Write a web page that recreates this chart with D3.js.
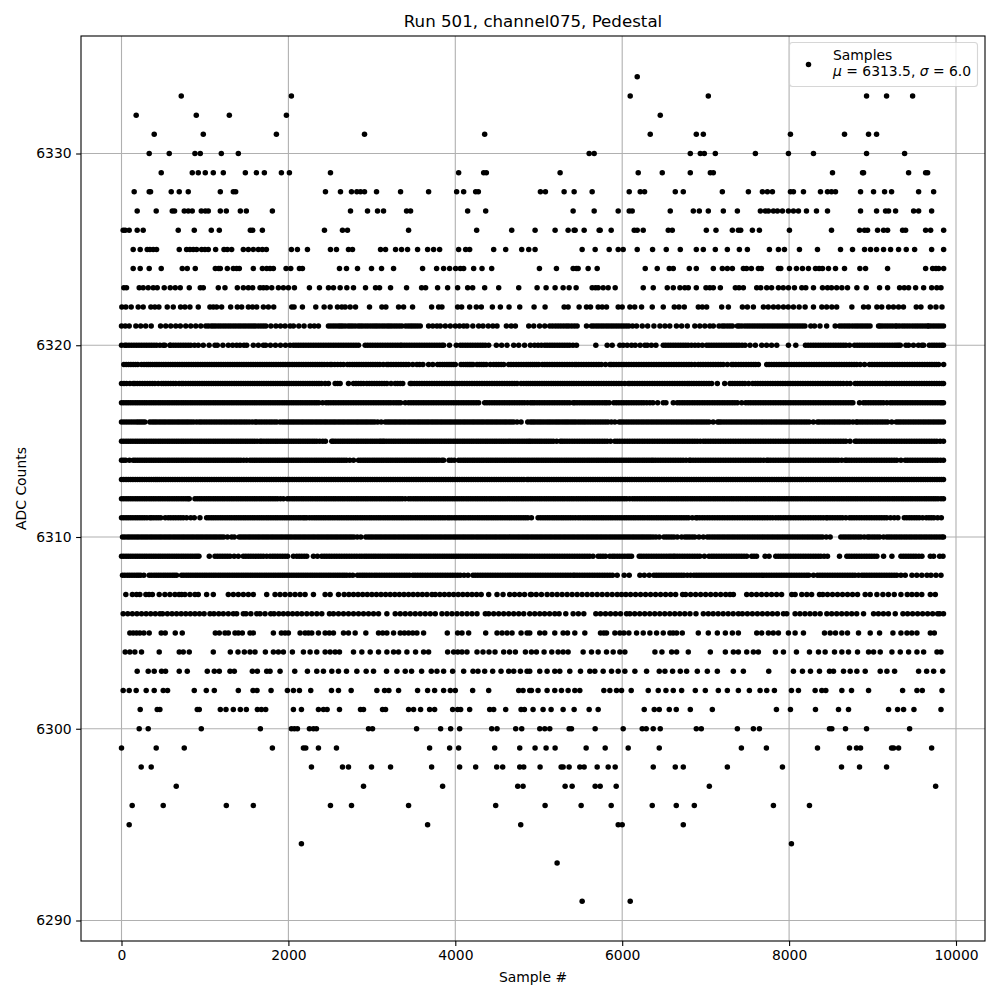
<!DOCTYPE html>
<html><head><meta charset="utf-8">
<script src="https://cdn.jsdelivr.net/npm/d3@7"></script>
<style>html,body{margin:0;padding:0;background:#fff}svg{display:block}text{font-family:"DejaVu Sans",sans-serif;fill:#000}</style>
</head><body><svg id="c" width="1000" height="1000"></svg>
<script>
const xTicks=[0,2000,4000,6000,8000,10000];
const yTicks=[6290,6300,6310,6320,6330];
const titleText="Run 501, channel075, Pedestal";
const xLabel="Sample #";
const yLabel="ADC Counts";
const legendName="Samples";
const mu="6313.5";
const sigma="6.0";
const s6334=[6180];
const s6333=[716,2036,6096,7032,8928,9168,9480];
const s6332=[176,896,1292,1976,6456];
const s6331=[392,980,1856,2912,4352,6336,6888,6972,8016,8664,8952,9048];
const s6330=[332,572,880,944,1196,1400,5604,5664,6816,6936,6984,7116,7596,7992,8292,8928,9384];
const s6329=[476,848,920,1004,1100,1220,1484,1616,1712,1916,2012,2504,4040,4340,4372,5256,6192,6480,6816,7056,7092,8520,8880,8892,9432,9636,9660];
const s6328=[152,332,348,596,692,800,1184,1340,1368,2444,2624,2756,2820,2864,2912,3056,3344,3680,4016,4100,4244,4276,5020,5080,5304,5424,5640,6084,6216,6268,6636,6732,7200,7512,7680,7740,7800,8016,8052,8172,8376,8460,8508,8556,8856,9012,9144,9228,9552,9732];
const s6327=[188,416,608,636,752,800,848,956,1004,1040,1184,1256,1424,1496,1808,2744,2948,3068,3140,3416,3464,4148,4364,5412,5664,5952,6084,6120,6576,6852,6924,7032,7212,7380,7656,7716,7752,7812,7860,7920,7992,8052,8112,8208,8328,8460,8856,9048,9156,9192,9276,9492,9552,9708];
const s6326=[20,44,92,188,260,680,872,1076,1172,1544,1572,1688,2432,2648,2708,3440,4256,4676,4956,5196,5352,5424,5436,5544,5724,5736,5868,6144,6180,6252,6552,6600,7008,7124,7320,7392,7420,7560,7644,8004,8508,8844,8904,8940,9060,9132,9180,9360,9396,9636,9696,9852];
const s6325=[140,224,308,340,380,420,692,780,820,860,900,960,1000,1040,1128,1228,1268,1320,1460,1520,1580,1640,1688,1736,2036,2108,2228,2504,2576,2720,2768,3104,3164,3284,3356,3428,3548,3668,3740,3812,4040,4124,4172,4460,4604,4796,4880,4956,5520,5676,5844,5952,6012,6180,6364,6528,6696,6888,6972,7116,7260,7404,7500,7764,7872,7944,8124,8340,8616,8760,8904,8976,9048,9132,9216,9312,9404,9504,9708,9852];
const s6324=[140,224,332,476,728,788,884,1124,1164,1184,1268,1340,1380,1412,1580,1688,1740,1780,1820,1972,2028,2132,2168,2612,2696,2828,2996,3116,3260,3608,3776,3860,3932,4004,4060,4100,4220,4320,4436,5008,5212,5412,5450,5472,5592,5700,6276,6420,6564,6612,6804,6888,7092,7200,7260,7320,7452,7490,7548,7632,7668,7872,7900,8004,8088,8160,8232,8316,8360,8400,8472,8556,8664,8848,8916,9180,9636,9720,9760,9792,9852];
const s6323=[28,60,212,260,320,380,428,512,584,644,704,812,944,980,1160,1240,1388,1460,1520,1572,1660,1700,1740,1800,1880,1940,2000,2072,2252,2372,2480,2540,2620,2700,2780,2924,3044,3092,3224,3416,3596,3644,3788,3908,4028,4148,4208,4352,4520,4760,4980,5088,5196,5292,5364,5448,5640,5680,5712,5772,5832,5916,6252,6372,6540,6612,6692,6750,6792,6888,7004,7050,7092,7176,7356,7400,7452,7612,7660,7732,7790,7872,7930,7992,8064,8152,8200,8292,8400,8460,8508,8570,8632,8700,8812,8924,9084,9180,9324,9380,9432,9516,9612,9708,9770,9820];
const s6322=[4,52,116,200,260,352,400,448,548,620,708,760,820,920,1060,1100,1140,1200,1308,1388,1440,1520,1570,1620,1700,1760,1824,2040,2068,2168,2328,2428,2500,2588,2640,2680,2740,2804,2972,3120,3168,3320,3380,3488,3716,3800,3840,4028,4076,4172,4252,4312,4444,4540,4644,4772,4944,5076,5304,5352,5484,5572,5620,5712,5760,5812,5952,6000,6092,6150,6232,6360,6492,6624,6680,6744,6912,6960,7012,7192,7272,7440,7500,7572,7692,7750,7812,7870,7932,7990,8052,8120,8192,8292,8392,8450,8512,8570,8752,8892,8950,9052,9110,9192,9250,9312,9370,9524,9580,9692,9760,9832];
const s6321=[0,45,92,172,230,290,356,468,530,590,650,705,770,830,890,950,1010,1075,1130,1190,1250,1310,1370,1430,1490,1550,1605,1670,1730,1790,1850,1905,1960,2020,2060,2125,2188,2260,2310,2360,2480,2540,2600,2650,2715,2770,2835,2890,2950,3010,3065,3125,3185,3240,3300,3360,3404,3465,3520,3580,3680,3730,3780,3820,3880,3940,4000,4050,4100,4140,4210,4280,4332,4395,4450,4500,4612,4670,4720,4880,4940,5010,5072,5132,5200,5265,5330,5395,5460,5572,5632,5690,5750,5810,5870,5930,5990,6050,6124,6172,6240,6305,6380,6452,6512,6570,6650,6712,6780,6870,6930,6990,7050,7092,7160,7225,7290,7380,7404,7470,7530,7590,7650,7710,7770,7830,7890,7950,8010,8070,8130,8190,8260,8304,8370,8450,8552,8604,8665,8725,8790,8850,8910,8970,9072,9092,9150,9210,9272,9292,9355,9415,9480,9540,9600,9660,9672,9730,9790,9850];
const f6321=[1040,1102,1160,1220,1280,1340,1400,1460,1520,1578,1638,1700,2510,2570,2625,2680,2742,2800,2862,2920,2980,3038,3095,3155,3212,3270,3330,3435,3492,3550,5165,5232,5298,5360,5428,5660,5720,5780,5840,5900,5960,6020,6080,7198,7258,7320,7435,7500,7560,7620,7680,7740,7800,7860,7920,7980,8040,8100,8160,8634,8695,8758,8820,8880,8940,9120,9180,9240,9322,9385,9447,9510,9570,9630,9700,9760,9820];
const s6320=[0,40,60,120,180,240,300,360,420,500,520,580,588,650,710,770,830,920,980,1050,1120,1148,1215,1280,1332,1380,1420,1468,1500,1580,1640,1700,1728,1785,1845,1905,1965,2020,2060,2120,2180,2240,2300,2360,2420,2480,2540,2600,2660,2720,2780,2840,2920,2980,3040,3100,3160,3220,3280,3340,3360,3420,3480,3540,3600,3660,3720,3780,3840,3860,3930,4012,4060,4120,4180,4240,4300,4360,4400,4492,4555,4620,4700,4760,4830,4900,4950,4992,5032,5072,5132,5190,5250,5310,5370,5452,5684,5820,5880,5972,6012,6060,6112,6156,6215,6272,6300,6350,6404,6492,6550,6610,6670,6730,6790,6872,6912,6960,7012,7040,7100,7160,7220,7280,7340,7400,7472,7532,7596,7672,7730,7790,7852,7992,8080,8196,8260,8320,8380,8440,8500,8560,8620,8680,8724,8784,8845,8905,8965,9025,9085,9145,9205,9265,9312,9332,9400,9432,9490,9550,9592,9612,9680,9712,9770,9830,9850];
const f6320=[90,150,210,270,330,390,460,620,680,740,800,875,2090,2150,2210,2270,2330,2390,2450,2510,2570,2630,2690,2750,2810,2950,3010,3070,3130,3190,3250,3310,3390,3450,3510,3570,3630,3690,3750,3810,4090,4150,4210,4270,4330,5100,5160,5220,5280,5340,5410,6520,6580,6640,6700,6760,6830,7070,7130,7190,7250,7310,7370,7436,8228,8290,8350,8410,8470,8530,8590,8650,8815,8875,8935,8995,9055,9115,9175,9235,9290,9740,9800];
const s6319=[28,85,140,195,240,300,345,400,450,505,560,615,670,725,780,835,890,945,1000,1055,1110,1165,1220,1275,1330,1385,1440,1495,1550,1605,1660,1715,1770,1825,1880,1935,1990,2045,2100,2155,2210,2265,2320,2375,2430,2500,2520,2590,2660,2708,2765,2820,2875,2930,2985,3040,3095,3180,3200,3260,3320,3380,3440,3540,3572,3612,3680,3730,3788,3845,3900,3950,4000,4068,4125,4170,4212,4260,4315,4370,4420,4460,4520,4580,4640,4668,4730,4790,4850,4900,4950,5000,5044,5072,5130,5190,5250,5310,5370,5432,5452,5510,5570,5630,5690,5750,5852,5872,5930,5990,6050,6110,6170,6230,6290,6350,6410,6470,6530,6590,6650,6710,6770,6830,6912,6970,7030,7090,7150,7210,7312,7332,7395,7455,7515,7575,7632,7732,7790,7850,7910,7970,8030,8090,8150,8210,8270,8330,8390,8450,8510,8570,8630,8690,8750,8810,8852,8904,8964,9025,9085,9145,9205,9265,9325,9385,9445,9505,9565,9625,9685,9740,9792,9852];
const f6319=[56,112,168,270,322,372,425,478,532,587,642,697,752,807,862,917,972,1027,1082,1137,1192,1247,1302,1357,1412,1467,1522,1577,1632,1687,1742,1797,1852,1907,1962,2017,2072,2127,2182,2237,2292,2347,2402,2465,2555,2625,2736,2792,2847,2902,2957,3012,3067,3137,3230,3290,3350,3410,3490,3816,3872,3925,3975,4096,4148,4190,4288,4342,4490,4550,4698,4760,4820,4875,4925,4975,5100,5160,5220,5280,5340,5400,5480,5540,5600,5660,5720,5800,5900,5960,6020,6080,6140,6200,6260,6320,6380,6440,6500,6560,6620,6680,6740,6800,6870,6940,7000,7060,7120,7180,7260,7362,7425,7485,7545,7600,7760,7820,7880,7940,8000,8060,8120,8180,8240,8300,8360,8420,8480,8540,8600,8660,8720,8780,8994,9055,9115,9175,9235,9295,9355,9415,9475,9535,9595,9655,9712,9765];
const s6318=[0,60,140,160,220,280,340,400,480,532,590,650,720,740,800,855,910,965,1020,1075,1130,1185,1240,1295,1350,1405,1460,1515,1570,1625,1680,1735,1790,1845,1900,1955,2010,2065,2120,2175,2230,2285,2340,2395,2480,2560,2620,2720,2780,2840,2900,2940,3000,3060,3120,3180,3280,3308,3370,3460,3480,3540,3600,3660,3720,3780,3840,3900,3960,4020,4080,4140,4200,4260,4320,4380,4440,4500,4560,4620,4680,4740,4788,4850,4900,4955,5010,5065,5120,5175,5230,5285,5340,5395,5450,5512,5570,5630,5690,5750,5810,5870,5930,5990,6072,6092,6150,6210,6270,6330,6390,6450,6510,6570,6630,6690,6750,6804,6832,6890,6950,7010,7072,7140,7228,7292,7350,7410,7470,7564,7596,7655,7715,7775,7835,7895,7955,8015,8075,8135,8195,8255,8315,8375,8435,8495,8555,8615,8692,8732,8792,8850,8910,8970,9030,9090,9152,9172,9230,9290,9350,9410,9470,9530,9590,9650,9710,9770,9830,9850];
const f6318=[30,100,190,250,310,370,440,505,560,620,690,770,827,882,937,992,1047,1102,1157,1212,1267,1322,1377,1432,1487,1542,1597,1652,1707,1762,1817,1872,1927,1982,2037,2092,2147,2202,2257,2312,2367,2440,2590,2810,2870,2970,3030,3090,3150,3230,3340,3510,3570,3630,3690,3750,3810,3870,3930,3990,4050,4110,4170,4230,4290,4350,4410,4470,4530,4590,4650,4710,4820,4875,4928,4982,5038,5092,5148,5202,5258,5312,5368,5422,5480,5540,5600,5660,5720,5780,5840,5900,5960,6030,6120,6180,6240,6300,6360,6420,6480,6540,6600,6660,6720,6780,6860,6920,6980,7040,7320,7380,7440,7515,7625,7685,7745,7805,7865,7925,7985,8045,8105,8165,8225,8285,8345,8405,8465,8525,8585,8650,8820,8880,8940,9000,9060,9120,9200,9260,9320,9380,9440,9500,9560,9620,9680,9740,9800];
const s6317=[0,55,110,165,220,275,330,385,440,495,550,605,660,715,770,825,880,935,990,1045,1100,1155,1210,1265,1320,1375,1430,1485,1540,1595,1650,1705,1760,1815,1870,1925,1980,2035,2090,2145,2200,2255,2310,2365,2452,2480,2540,2600,2660,2720,2780,2840,2900,2960,3020,3080,3140,3200,3228,3290,3345,3400,3440,3500,3560,3620,3680,3740,3800,3860,3920,3980,4040,4100,4160,4220,4280,4352,4410,4470,4530,4590,4650,4710,4770,4830,4900,4950,5010,5070,5130,5190,5250,5310,5370,5412,5432,5490,5550,5610,5670,5730,5790,5844,5900,5960,6020,6080,6140,6200,6260,6332,6368,6425,6492,6524,6612,6660,6720,6780,6840,6900,6960,7020,7080,7140,7200,7260,7320,7380,7432,7480,7540,7600,7660,7720,7780,7840,7900,7960,8020,8080,8140,8200,8260,8320,8380,8440,8500,8560,8620,8680,8740,8764,8844,8892,8950,9010,9070,9130,9172,9212,9270,9330,9390,9450,9510,9570,9630,9690,9750,9810,9850];
const f6317=[27,82,137,192,247,302,357,412,467,522,577,632,687,742,797,852,907,962,1017,1072,1127,1182,1237,1292,1347,1402,1457,1512,1567,1622,1677,1732,1787,1842,1897,1952,2007,2062,2117,2172,2227,2282,2337,2410,2510,2570,2630,2690,2750,2810,2870,2930,2990,3050,3110,3170,3260,3318,3470,3530,3590,3650,3710,3770,3830,3890,3950,4010,4070,4130,4190,4250,4380,4440,4500,4560,4620,4680,4740,4800,4865,4925,4980,5040,5100,5160,5220,5280,5340,5460,5520,5580,5640,5700,5760,5815,5930,5990,6050,6110,6170,6230,6295,6690,6750,6810,6870,6930,6990,7050,7110,7170,7230,7290,7350,7510,7570,7630,7690,7750,7810,7870,7930,7990,8050,8110,8170,8230,8290,8350,8410,8470,8530,8590,8650,8710,8920,8980,9040,9100,9240,9300,9360,9420,9480,9540,9600,9660,9720,9780,9830];
const s6316=[0,60,120,180,230,280,340,395,450,505,560,615,670,725,780,835,900,932,990,1050,1110,1170,1230,1290,1350,1410,1470,1530,1600,1620,1680,1740,1800,1860,1900,1932,1990,2045,2100,2155,2210,2265,2320,2375,2430,2485,2540,2595,2650,2705,2760,2815,2870,2925,2980,3035,3112,3160,3215,3270,3325,3380,3435,3490,3545,3600,3655,3710,3765,3820,3875,3930,3985,4040,4095,4150,4205,4260,4315,4370,4425,4480,4535,4590,4645,4700,4788,4868,4900,4950,5005,5060,5115,5170,5225,5280,5335,5390,5445,5504,5532,5590,5650,5710,5770,5830,5912,5964,6020,6080,6140,6200,6260,6320,6380,6440,6500,6560,6620,6680,6740,6800,6860,6920,6980,7040,7144,7164,7220,7280,7340,7400,7460,7520,7580,7640,7700,7760,7820,7880,7940,8000,8060,8120,8180,8240,8340,8364,8425,8485,8545,8605,8665,8725,8804,8820,8880,8940,9000,9060,9120,9180,9284,9312,9370,9430,9490,9550,9610,9670,9730,9790,9850];
const f6316=[30,90,150,205,255,368,422,477,532,587,642,697,752,807,865,960,1020,1080,1140,1200,1260,1320,1380,1440,1500,1565,1650,1710,1770,1830,1960,2018,2072,2127,2182,2237,2292,2347,2402,2457,2512,2567,2622,2677,2732,2787,2842,2897,2952,3007,3070,3188,3242,3297,3352,3407,3462,3517,3572,3627,3682,3737,3792,3847,3902,3957,4012,4067,4122,4177,4232,4287,4342,4397,4452,4507,4562,4617,4672,4740,4925,4978,5032,5088,5142,5198,5252,5308,5362,5418,5475,5560,5620,5680,5740,5800,5870,5990,6050,6110,6170,6230,6290,6350,6410,6470,6530,6590,6650,6710,6770,6830,6890,6950,7010,7090,7190,7250,7310,7370,7430,7490,7550,7610,7670,7730,7790,7850,7910,7970,8030,8090,8150,8210,8290,8395,8455,8515,8575,8635,8695,8765,8850,8910,8970,9030,9090,9150,9230,9340,9400,9460,9520,9580,9640,9700,9760,9820];
const s6315=[0,55,110,165,220,275,330,385,440,495,550,605,660,715,770,825,880,935,990,1045,1100,1155,1210,1265,1320,1375,1430,1485,1540,1595,1660,1680,1735,1790,1845,1900,1955,2010,2065,2120,2175,2230,2285,2340,2412,2444,2520,2540,2595,2650,2705,2760,2815,2870,2925,2980,3035,3090,3132,3150,3205,3260,3315,3370,3425,3480,3535,3590,3645,3700,3755,3810,3865,3920,3975,4030,4085,4140,4195,4250,4305,4360,4415,4470,4525,4580,4635,4690,4745,4800,4855,4900,4955,5010,5065,5120,5175,5260,5284,5340,5400,5460,5520,5580,5640,5700,5760,5820,5912,5940,6000,6060,6120,6180,6240,6300,6360,6420,6480,6540,6600,6660,6720,6780,6840,6900,6972,7000,7060,7120,7180,7240,7300,7360,7420,7480,7540,7600,7660,7720,7780,7840,7900,7960,8020,8080,8140,8200,8260,8320,8380,8440,8500,8560,8620,8680,8792,8812,8870,8930,8990,9050,9110,9170,9230,9290,9350,9410,9470,9530,9590,9650,9710,9770,9850];
const f6315=[27,82,137,192,247,302,357,412,467,522,577,632,687,742,797,852,907,962,1017,1072,1127,1182,1237,1292,1347,1402,1457,1512,1567,1625,1707,1762,1817,1872,1927,1982,2037,2092,2147,2202,2257,2312,2375,2567,2622,2677,2732,2787,2842,2897,2952,3007,3062,3110,3177,3232,3287,3342,3397,3452,3507,3562,3617,3672,3727,3782,3837,3892,3947,4002,4057,4112,4167,4222,4277,4332,4387,4442,4497,4552,4607,4662,4717,4772,4827,4880,4927,4982,5037,5092,5147,5215,5312,5370,5430,5490,5550,5610,5670,5730,5790,5860,5970,6030,6090,6150,6210,6270,6330,6390,6450,6510,6570,6630,6690,6750,6810,6870,6935,7030,7090,7150,7210,7270,7330,7390,7450,7510,7570,7630,7690,7750,7810,7870,7930,7990,8050,8110,8170,8230,8290,8350,8410,8470,8530,8590,8650,8730,8840,8900,8960,9020,9080,9140,9200,9260,9320,9380,9440,9500,9560,9620,9680,9740,9810];
const s6314=[0,50,140,164,220,275,330,385,440,495,550,605,660,715,770,825,880,935,990,1045,1100,1155,1210,1265,1320,1375,1430,1500,1540,1595,1650,1705,1760,1815,1870,1925,1980,2035,2090,2145,2200,2255,2310,2365,2420,2475,2530,2585,2640,2695,2780,2840,2895,2950,3005,3060,3115,3170,3225,3280,3335,3390,3445,3500,3555,3610,3665,3720,3775,3840,3860,3925,3988,4040,4095,4150,4205,4260,4315,4370,4425,4480,4535,4590,4645,4700,4755,4810,4865,4920,4975,5030,5085,5140,5195,5250,5305,5360,5415,5470,5525,5580,5635,5690,5745,5800,5855,5910,5965,6020,6075,6130,6185,6240,6295,6350,6372,6430,6490,6550,6610,6670,6730,6804,6820,6880,6940,7000,7060,7120,7180,7240,7300,7360,7420,7480,7540,7600,7660,7732,7752,7810,7870,7930,7990,8050,8110,8170,8230,8290,8350,8410,8470,8530,8590,8672,8692,8750,8810,8870,8930,8990,9050,9110,9170,9230,9290,9392,9420,9480,9540,9600,9660,9720,9780,9850];
const f6314=[25,95,192,247,302,357,412,467,522,577,632,687,742,797,852,907,962,1017,1072,1127,1182,1237,1292,1347,1402,1465,1567,1622,1677,1732,1787,1842,1897,1952,2007,2062,2117,2172,2227,2282,2337,2392,2447,2502,2557,2612,2667,2735,2867,2922,2977,3032,3087,3142,3197,3252,3307,3362,3417,3472,3527,3582,3637,3692,3747,3805,3955,4067,4122,4177,4232,4287,4342,4397,4452,4507,4562,4617,4672,4727,4782,4837,4892,4947,5002,5057,5112,5167,5222,5277,5332,5387,5442,5497,5552,5607,5662,5717,5772,5827,5882,5937,5992,6047,6102,6157,6212,6267,6322,6400,6460,6520,6580,6640,6700,6765,6850,6910,6970,7030,7090,7150,7210,7270,7330,7390,7450,7510,7570,7630,7695,7780,7840,7900,7960,8020,8080,8140,8200,8260,8320,8380,8440,8500,8560,8630,8720,8780,8840,8900,8960,9020,9080,9140,9200,9260,9340,9450,9510,9570,9630,9690,9750,9815];
const s6313=[0,55,110,165,220,275,330,385,428,452,505,560,615,670,725,780,835,890,945,1000,1055,1110,1165,1220,1275,1330,1385,1440,1495,1550,1605,1660,1715,1770,1825,1880,1935,1990,2045,2100,2155,2210,2265,2320,2375,2430,2485,2540,2595,2650,2705,2760,2815,2870,2925,2980,3035,3090,3145,3200,3255,3310,3365,3420,3475,3530,3585,3640,3695,3750,3805,3860,3915,3970,4025,4080,4135,4190,4245,4300,4355,4410,4465,4520,4575,4630,4685,4740,4795,4860,4880,4935,4990,5045,5100,5155,5210,5265,5320,5375,5430,5485,5540,5595,5650,5705,5760,5815,5870,5925,5980,6035,6090,6145,6200,6255,6310,6365,6420,6475,6530,6585,6640,6695,6750,6805,6860,6915,6970,7025,7080,7135,7190,7245,7300,7355,7410,7465,7520,7575,7630,7685,7740,7795,7850,7905,7960,8015,8070,8125,8172,8204,8260,8315,8370,8425,8480,8535,8590,8645,8700,8755,8810,8865,8920,8975,9030,9085,9140,9195,9250,9305,9360,9415,9470,9525,9580,9635,9690,9745,9800,9850];
const f6313=[27,82,137,192,247,302,357,408,478,532,587,642,697,752,807,862,917,972,1027,1082,1137,1192,1247,1302,1357,1412,1467,1522,1577,1632,1687,1742,1797,1852,1907,1962,2017,2072,2127,2182,2237,2292,2347,2402,2457,2512,2567,2622,2677,2732,2787,2842,2897,2952,3007,3062,3117,3172,3227,3282,3337,3392,3447,3502,3557,3612,3667,3722,3777,3832,3887,3942,3997,4052,4107,4162,4217,4272,4327,4382,4437,4492,4547,4602,4657,4712,4767,4822,4907,4962,5017,5072,5127,5182,5237,5292,5347,5402,5457,5512,5567,5622,5677,5732,5787,5842,5897,5952,6007,6062,6117,6172,6227,6282,6337,6392,6447,6502,6557,6612,6667,6722,6777,6832,6887,6942,6997,7052,7107,7162,7217,7272,7327,7382,7437,7492,7547,7602,7657,7712,7767,7822,7877,7932,7987,8042,8097,8148,8232,8287,8342,8397,8452,8507,8562,8617,8672,8727,8782,8837,8892,8947,9002,9057,9112,9167,9222,9277,9332,9387,9442,9497,9552,9607,9662,9717,9772,9825];
const s6312=[0,55,110,165,220,275,330,385,440,495,550,605,660,715,770,812,880,935,990,1045,1100,1155,1210,1265,1320,1375,1430,1485,1540,1595,1650,1705,1760,1815,1870,1940,1988,2045,2100,2155,2210,2265,2320,2375,2430,2485,2540,2595,2650,2705,2760,2815,2870,2925,2980,3035,3090,3145,3200,3255,3310,3365,3440,3468,3525,3580,3635,3690,3745,3800,3855,3910,3965,4020,4075,4130,4185,4240,4295,4350,4405,4460,4515,4570,4625,4680,4735,4790,4845,4900,4955,5010,5065,5120,5175,5230,5285,5340,5395,5450,5505,5560,5615,5670,5725,5780,5835,5890,5945,6000,6055,6124,6152,6210,6265,6320,6375,6430,6485,6540,6595,6650,6705,6760,6815,6870,6925,6980,7035,7090,7145,7200,7255,7310,7365,7420,7475,7530,7585,7640,7695,7750,7805,7860,7915,7970,8025,8080,8135,8190,8245,8300,8355,8410,8465,8520,8575,8630,8685,8740,8795,8850,8905,8960,9015,9070,9125,9180,9235,9290,9345,9400,9455,9510,9565,9620,9675,9730,9785,9850];
const f6312=[27,82,137,192,247,302,357,412,467,522,577,632,687,742,795,907,962,1017,1072,1127,1182,1237,1292,1347,1402,1457,1512,1567,1622,1677,1732,1787,1842,1905,2017,2072,2127,2182,2237,2292,2347,2402,2457,2512,2567,2622,2677,2732,2787,2842,2897,2952,3007,3062,3117,3172,3227,3282,3337,3400,3497,3552,3607,3662,3717,3772,3827,3882,3937,3992,4047,4102,4157,4212,4267,4322,4377,4432,4487,4542,4597,4652,4707,4762,4817,4872,4927,4982,5037,5092,5147,5202,5257,5312,5367,5422,5477,5532,5587,5642,5697,5752,5807,5862,5917,5972,6027,6090,6180,6237,6292,6347,6402,6457,6512,6567,6622,6677,6732,6787,6842,6897,6952,7007,7062,7117,7172,7227,7282,7337,7392,7447,7502,7557,7612,7667,7722,7777,7832,7887,7942,7997,8052,8107,8162,8217,8272,8327,8382,8437,8492,8547,8602,8657,8712,8767,8822,8877,8932,8987,9042,9097,9152,9207,9262,9317,9372,9427,9482,9537,9592,9647,9702,9757,9820];
const s6311=[0,55,110,165,220,275,340,360,415,470,524,560,620,680,740,780,830,872,940,1020,1075,1130,1185,1240,1295,1350,1405,1460,1515,1570,1625,1680,1735,1790,1845,1900,1955,2010,2065,2120,2175,2220,2252,2310,2365,2420,2475,2530,2585,2640,2695,2750,2805,2860,2915,2970,3025,3080,3135,3190,3245,3300,3355,3410,3465,3520,3575,3630,3685,3740,3795,3850,3908,3932,3990,4045,4100,4155,4210,4265,4320,4375,4430,4485,4540,4595,4650,4705,4760,4815,4870,4912,4992,5050,5105,5160,5215,5270,5325,5380,5440,5472,5530,5585,5640,5695,5750,5805,5860,5915,5970,6025,6080,6135,6190,6245,6300,6355,6410,6465,6520,6575,6630,6685,6740,6795,6884,6900,6960,7020,7080,7140,7200,7260,7320,7380,7440,7500,7560,7620,7680,7740,7804,7840,7900,7960,8020,8080,8140,8200,8260,8320,8380,8444,8460,8520,8580,8640,8724,8752,8810,8870,8930,8990,9050,9110,9170,9260,9304,9380,9440,9500,9560,9644,9676,9735,9824];
const f6311=[27,82,137,192,247,305,387,442,590,650,710,1047,1102,1157,1212,1267,1322,1377,1432,1487,1542,1597,1652,1707,1762,1817,1872,1927,1982,2037,2092,2147,2197,2282,2337,2392,2447,2502,2557,2612,2667,2722,2777,2832,2887,2942,2997,3052,3107,3162,3217,3272,3327,3382,3437,3492,3547,3602,3657,3712,3767,3822,3877,3960,4017,4072,4127,4182,4237,4292,4347,4402,4457,4512,4567,4622,4677,4732,4787,4842,5022,5077,5132,5187,5242,5297,5352,5410,5500,5557,5612,5667,5722,5777,5832,5887,5942,5997,6052,6107,6162,6217,6272,6327,6382,6437,6492,6547,6602,6657,6712,6767,6840,6930,6990,7050,7110,7170,7230,7290,7350,7410,7470,7530,7590,7650,7710,7772,7870,7930,7990,8050,8110,8170,8230,8290,8350,8410,8490,8550,8610,8680,8780,8840,8900,8960,9020,9080,9140,9215,9410,9470,9530,9600,9705,9780];
const s6310=[12,70,125,180,235,290,345,400,455,510,565,620,675,730,785,840,895,950,1005,1060,1115,1170,1225,1320,1352,1410,1465,1520,1575,1630,1685,1740,1795,1850,1905,1960,2015,2070,2125,2180,2235,2290,2345,2400,2455,2510,2565,2620,2675,2730,2785,2868,2928,2985,3040,3095,3150,3205,3260,3315,3370,3425,3480,3535,3590,3645,3700,3755,3810,3865,3920,3975,4030,4085,4140,4195,4250,4305,4360,4415,4470,4525,4580,4635,4690,4745,4800,4855,4910,4965,5020,5075,5130,5185,5240,5295,5350,5405,5460,5515,5570,5625,5680,5735,5790,5845,5900,5955,6010,6065,6120,6175,6230,6285,6340,6404,6444,6500,6560,6620,6712,6752,6810,6870,6972,7020,7080,7140,7200,7260,7320,7380,7440,7500,7560,7620,7680,7740,7800,7860,7920,7980,8040,8100,8160,8220,8280,8340,8400,8492,8620,8680,8740,8800,8860,8940,8964,9025,9085,9132,9172,9230,9290,9350,9410,9470,9530,9590,9650,9710,9770,9830,9850];
const f6310=[40,97,152,207,262,317,372,427,482,537,592,647,702,757,812,867,922,977,1032,1087,1142,1197,1270,1437,1492,1547,1602,1657,1712,1767,1822,1877,1932,1987,2042,2097,2152,2207,2262,2317,2372,2427,2482,2537,2592,2647,2702,2757,2825,2957,3012,3067,3122,3177,3232,3287,3342,3397,3452,3507,3562,3617,3672,3727,3782,3837,3892,3947,4002,4057,4112,4167,4222,4277,4332,4387,4442,4497,4552,4607,4662,4717,4772,4827,4882,4937,4992,5047,5102,5157,5212,5267,5322,5377,5432,5487,5542,5597,5652,5707,5762,5817,5872,5927,5982,6037,6092,6147,6202,6257,6312,6370,6530,6590,6660,6780,6840,6920,7050,7110,7170,7230,7290,7350,7410,7470,7530,7590,7650,7710,7770,7830,7890,7950,8010,8070,8130,8190,8250,8310,8370,8445,8650,8710,8770,8830,8900,8995,9055,9200,9260,9320,9380,9440,9500,9560,9620,9680,9740,9800];
const s6309=[0,55,110,165,220,275,330,385,440,495,550,605,660,715,770,825,880,928,1052,1120,1180,1240,1300,1400,1460,1520,1580,1640,1700,1780,1812,1870,1930,1990,2060,2100,2160,2220,2300,2348,2400,2460,2520,2580,2640,2700,2760,2820,2852,2910,2965,3020,3075,3130,3185,3240,3295,3350,3405,3460,3515,3570,3625,3680,3735,3790,3845,3900,3955,4010,4065,4120,4175,4230,4285,4340,4395,4450,4505,4560,4615,4670,4725,4780,4835,4892,4950,5010,5070,5130,5190,5250,5310,5370,5430,5490,5550,5610,5712,5740,5800,5852,5884,5940,6000,6060,6112,6204,6260,6320,6380,6440,6500,6560,6612,6632,6690,6750,6810,6870,6930,7040,7072,7130,7190,7250,7310,7370,7430,7492,7552,7610,7712,7760,7840,7900,7960,8020,8080,8140,8200,8260,8320,8380,8460,8604,8692,8750,8810,8870,8930,8990,9052,9132,9232,9340,9400,9460,9520,9592,9692,9732,9804,9844];
const f6309=[27,82,137,192,247,302,357,412,467,522,577,632,687,742,797,852,905,1150,1210,1270,1350,1490,1550,1610,1670,1740,1840,1900,1960,2130,2190,2430,2490,2550,2610,2670,2730,2790,2880,2937,2992,3047,3102,3157,3212,3267,3322,3377,3432,3487,3542,3597,3652,3707,3762,3817,3872,3927,3982,4037,4092,4147,4202,4257,4312,4367,4422,4477,4532,4587,4642,4697,4752,4807,4862,4920,4980,5040,5100,5160,5220,5280,5340,5400,5460,5520,5580,5650,5770,5910,5970,6030,6085,6230,6290,6350,6410,6470,6530,6585,6660,6720,6780,6840,6900,6985,7100,7160,7220,7280,7340,7400,7460,7580,7870,7930,7990,8050,8110,8170,8230,8290,8350,8420,8720,8780,8840,8900,8960,9020,9370,9430,9490,9555];
const s6308=[12,70,125,180,230,268,332,390,445,500,555,610,660,720,775,830,885,940,995,1050,1105,1160,1215,1270,1325,1380,1435,1490,1545,1600,1655,1710,1765,1820,1875,1930,1985,2040,2095,2150,2205,2260,2315,2370,2425,2480,2535,2590,2645,2700,2772,2828,2885,2940,3000,3032,3090,3150,3210,3270,3330,3390,3450,3492,3520,3580,3640,3700,3760,3820,3880,3940,4000,4060,4152,4212,4270,4330,4390,4450,4510,4570,4630,4690,4750,4810,4870,4930,4990,5050,5110,5170,5230,5290,5350,5412,5432,5490,5550,5610,5670,5730,5790,5852,5884,5940,6024,6084,6212,6265,6324,6380,6440,6500,6560,6620,6680,6740,6820,6860,6920,6980,7040,7100,7160,7220,7280,7340,7400,7460,7520,7580,7640,7700,7760,7820,7880,7940,8000,8060,8120,8180,8236,8292,8340,8400,8460,8520,8580,8640,8700,8760,8832,8872,8930,8990,9050,9110,9170,9230,9290,9392,9472,9530,9590,9652,9700,9760,9820];
const f6308=[40,97,152,205,360,417,472,527,582,635,747,802,857,912,967,1022,1077,1132,1187,1242,1297,1352,1407,1462,1517,1572,1627,1682,1737,1792,1847,1902,1957,2012,2067,2122,2177,2232,2287,2342,2397,2452,2507,2562,2617,2672,2735,2857,2912,2970,3060,3120,3180,3240,3300,3360,3420,3550,3610,3670,3730,3790,3850,3910,3970,4030,4105,4240,4300,4360,4420,4480,4540,4600,4660,4720,4780,4840,4900,4960,5020,5080,5140,5200,5260,5320,5380,5460,5520,5580,5640,5700,5760,5820,6410,6470,6530,6590,6650,6710,6780,6890,6950,7010,7070,7130,7190,7250,7310,7370,7430,7490,7550,7610,7670,7730,7790,7850,7910,7970,8030,8090,8150,8210,8370,8430,8490,8550,8610,8670,8730,8790,8900,8960,9020,9080,9140,9200,9260,9340];
const s6307=[52,130,180,220,292,330,370,452,520,580,640,690,720,760,820,880,920,1020,1100,1280,1340,1400,1460,1520,1580,1740,1840,1900,1960,2020,2080,2140,2200,2300,2440,2500,2600,2668,2725,2780,2835,2890,2945,3000,3055,3110,3165,3220,3275,3330,3385,3440,3495,3550,3605,3660,3720,3760,3815,3870,3925,3980,4035,4090,4145,4200,4255,4310,4400,4500,4572,4652,4710,4770,4830,4900,4912,4970,5032,5100,5160,5220,5280,5340,5400,5460,5520,5580,5640,5700,5760,5820,5880,5940,5992,6044,6100,6160,6220,6280,6340,6400,6460,6520,6580,6640,6724,6760,6820,6880,6940,7000,7060,7120,7180,7240,7292,7332,7492,7550,7610,7670,7730,7790,7850,7910,8032,8072,8152,8212,8270,8364,8404,8460,8520,8580,8640,8700,8760,8820,8912,8972,9052,9124,9190,9260,9340,9416,9472,9530,9590,9692,9752];
const s6306=[20,75,130,185,240,295,350,405,460,492,550,605,660,715,770,825,880,935,990,1060,1108,1165,1220,1280,1340,1380,1460,1492,1550,1620,1660,1720,1788,1828,1885,1940,1995,2050,2105,2160,2220,2280,2340,2400,2492,2540,2600,2660,2720,2780,2840,2900,2960,3020,3080,3180,3280,3340,3400,3460,3520,3580,3640,3700,3760,3840,3900,3960,4020,4080,4140,4200,4260,4360,4400,4460,4520,4580,4640,4700,4760,4820,4892,4952,5012,5070,5130,5192,5244,5324,5412,5475,5540,5684,5740,5800,5860,5920,5980,6052,6092,6150,6210,6270,6330,6390,6450,6510,6570,6630,6690,6750,6812,6884,6972,7032,7090,7150,7210,7270,7330,7392,7440,7500,7560,7620,7680,7740,7800,7860,7932,7972,8072,8130,8190,8250,8310,8372,8452,8510,8570,8630,8690,8750,8810,8892,9012,9070,9130,9190,9272,9364,9420,9480,9540,9600,9660,9720,9780,9804,9850];
const s6305=[100,140,180,220,268,332,476,524,644,728,1124,1172,1240,1280,1360,1400,1448,1540,1580,1820,1916,1960,2000,2140,2200,2240,2280,2360,2440,2490,2540,2660,2720,2800,2928,3080,3130,3180,3260,3340,3390,3440,3490,3540,3620,3904,4028,4080,4160,4364,4500,4560,4620,4680,4788,4860,4892,5012,5072,5192,5292,5345,5432,5552,5740,5780,5812,5912,5972,6020,6080,6172,6252,6332,6412,6492,6572,6610,6652,6720,6912,7032,7140,7236,7320,7392,7612,7672,7752,7810,7872,7992,8072,8172,8424,8492,8556,8632,8700,8832,8972,9084,9244,9340,9412,9470,9532,9692,9740];
const s6304=[44,100,160,240,452,692,740,812,1100,1304,1396,1472,1540,1600,1724,1820,1880,1940,2048,2180,2260,2340,2440,2500,2560,2612,2780,2880,2980,3080,3180,3260,3320,3420,3524,3620,3680,3908,3980,4030,4080,4140,4260,4332,4404,4476,4580,4650,4720,4840,4912,4972,5064,5156,5232,5292,5352,5532,5632,5712,5812,5892,5972,6032,6392,6476,6592,6652,6792,7056,7236,7332,7392,7492,7572,7632,7836,7932,8088,8244,8352,8432,8544,8632,8712,8820,8952,9012,9092,9232,9332,9432,9532,9612,9772,9820];
const s6303=[188,320,392,480,528,692,788,1028,1112,1172,1300,1352,1568,1628,1740,1780,1900,2076,2228,2340,2420,2520,2600,2696,2820,2932,3020,3176,3300,3400,3476,3596,3712,3780,3860,3968,4100,4212,4272,4352,4448,4548,4640,4700,4780,4860,4892,5012,5100,5192,5252,5372,5500,5612,5672,5772,5872,5952,6032,6152,6292,6444,6512,6604,6696,6772,6900,7020,7140,7332,7452,7756,8052,8160,8256,8364,8484,8532,8652,8732,8812,8912,9092,9172,9264,9552,9648,9732,9840];
const s6302=[20,92,176,296,392,500,552,872,1016,1112,1400,1576,1624,1792,1988,2060,2132,2268,2516,2600,2752,3060,3152,3204,3320,3548,3668,3752,3860,3940,4000,4208,4400,4760,4812,4892,4912,4992,5100,5192,5272,5352,5432,5492,5780,5852,5932,5992,6108,6312,6432,6524,6612,6712,6876,6996,7152,7260,7392,7524,7652,7732,7824,8028,8112,8312,8392,8440,8632,8748,8952,9360,9532,9596,9832];
const s6301=[224,428,460,908,932,1184,1252,1340,1424,1496,1628,1676,1728,2060,2156,2360,2420,2464,2612,2864,2900,3128,3164,3440,3500,3584,3692,3752,3968,4028,4064,4172,4412,4460,4604,4788,4828,4932,5052,5148,5292,5424,5604,5712,6264,6384,6444,6564,6648,6816,7080,7848,8016,8316,8592,8712,9192,9300,9372,9496,9820];
const s6300=[212,320,956,1664,2036,2072,2108,2252,2300,2336,2960,3008,3536,3824,3944,4052,4436,4500,4724,4796,5012,5072,5132,5364,5392,5676,6012,6240,6288,6372,6456,6888,6948,7380,7572,7644,8484,8512,8676,8928,9444];
const s6299=[0,416,752,1808,2180,2208,2360,2576,3692,3932,4040,4472,4772,4956,5088,5196,5568,5796,6072,6444,7428,7728,8340,8724,8808,8856,9228,9252,9312,9708];
const s6298=[236,356,2276,2648,2720,2996,3224,3716,4052,4244,4496,4568,4772,4820,5016,5268,5292,5364,5492,5544,5700,5832,5916,6372,6636,6732,7260,7920,8628,8844,9168];
const s6297=[656,2900,3848,4748,4812,5316,5400,5676,5736,5928,7044,9756];
const s6296=[128,500,1256,1580,2504,2756,3440,4484,5076,5508,5868,6360,6648,6864,7812,8244];
const s6295=[92,3668,4784,5952,6000,6732];
const s6294=[2156,8028];
const s6293=[5220];
const s6291=[5520,6096];
const levels=[[6334,s6334],[6333,s6333],[6332,s6332],[6331,s6331],[6330,s6330],[6329,s6329],[6328,s6328],[6327,s6327],[6326,s6326],[6325,s6325],[6324,s6324],[6323,s6323],[6322,s6322],[6321,s6321],[6321,f6321],[6320,s6320],[6320,f6320],[6319,s6319],[6319,f6319],[6318,s6318],[6318,f6318],[6317,s6317],[6317,f6317],[6316,s6316],[6316,f6316],[6315,s6315],[6315,f6315],[6314,s6314],[6314,f6314],[6313,s6313],[6313,f6313],[6312,s6312],[6312,f6312],[6311,s6311],[6311,f6311],[6310,s6310],[6310,f6310],[6309,s6309],[6309,f6309],[6308,s6308],[6308,f6308],[6307,s6307],[6306,s6306],[6305,s6305],[6304,s6304],[6303,s6303],[6302,s6302],[6301,s6301],[6300,s6300],[6299,s6299],[6298,s6298],[6297,s6297],[6296,s6296],[6295,s6295],[6294,s6294],[6293,s6293],[6291,s6291]];
const points=levels.flatMap(([adc,samples])=>samples.map(sample=>({sample,adc})));

const L=81,R=985,T=36,B=941;
const svg=d3.select("#c");
const x=d3.scaleLinear().domain([0,10000]).range([121.5,956]);
const y=d3.scaleLinear().domain([6290,6330]).range([920.5,153.5]);

const grid=svg.append("g").attr("stroke","#b0b0b0").attr("stroke-width",1.1);
grid.selectAll(".gx").data(xTicks).join("line").attr("x1",d=>x(d)).attr("x2",d=>x(d)).attr("y1",T).attr("y2",B);
grid.selectAll(".gy").data(yTicks).join("line").attr("y1",d=>y(d)).attr("y2",d=>y(d)).attr("x1",L).attr("x2",R);

svg.append("g").selectAll("circle").data(points).join("circle")
  .attr("cx",d=>x(d.sample)).attr("cy",d=>y(d.adc)).attr("r",2.75).attr("fill","#000");

svg.append("rect").attr("x",L).attr("y",T).attr("width",R-L).attr("height",B-T)
  .attr("fill","none").attr("stroke","#000").attr("stroke-width",1.1);

const styleAxis=g=>{g.select(".domain").remove();g.selectAll("line").attr("stroke","#000").attr("stroke-width",1.1);
  g.selectAll("text").attr("font-size",13.9).attr("font-family","DejaVu Sans").attr("fill","#000");};
svg.append("g").attr("transform",`translate(0,${B})`)
  .call(d3.axisBottom(x).tickValues(xTicks).tickSize(4.9).tickPadding(4.5).tickFormat(d3.format("d"))).call(styleAxis);
svg.append("g").attr("transform",`translate(${L},0)`)
  .call(d3.axisLeft(y).tickValues(yTicks).tickSize(4.9).tickPadding(4.5).tickFormat(d3.format("d"))).call(styleAxis);

svg.append("text").attr("x",533).attr("y",27).attr("text-anchor","middle").attr("font-size",16.67).text(titleText);
svg.append("text").attr("x",533).attr("y",982).attr("text-anchor","middle").attr("font-size",13.9).text(xLabel);
svg.append("text").attr("transform","translate(26,488.5) rotate(-90)").attr("text-anchor","middle").attr("font-size",13.9).text(yLabel);

const lg=svg.append("g");
lg.append("rect").attr("x",789.5).attr("y",42.5).attr("width",188).attr("height",44).attr("rx",3)
  .attr("fill","#fff").attr("fill-opacity",0.8).attr("stroke","#cccccc").attr("stroke-opacity",0.8).attr("stroke-width",1.1);
lg.append("circle").attr("cx",808.5).attr("cy",64.5).attr("r",2.75).attr("fill","#000");
lg.append("text").attr("x",833).attr("y",59.5).attr("font-size",13.9).text(legendName);
const t2=lg.append("text").attr("x",833).attr("y",76).attr("font-size",13.9);
t2.append("tspan").attr("font-style","italic").text("μ");
t2.append("tspan").text(` = ${mu}, `);
t2.append("tspan").attr("font-style","italic").text("σ");
t2.append("tspan").text(` = ${sigma}`);
</script></body></html>
